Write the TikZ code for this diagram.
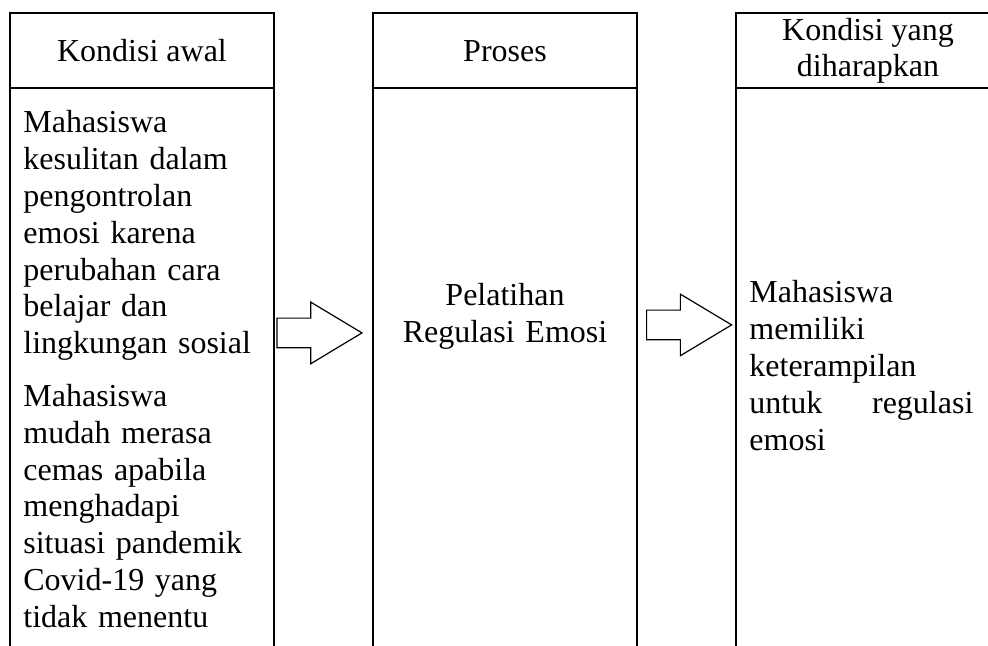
\documentclass[tikz,border=0pt]{standalone}
\usepackage{fontspec}
\setmainfont{Liberation Serif}
\usetikzlibrary{positioning,shapes.arrows}

\newcommand{\cellfont}{\fontsize{16pt}{18.4pt}\selectfont}

\begin{document}
\begin{tikzpicture}[
    node distance=49.5pt,
    head/.style={rectangle, draw, line width=1pt, minimum width=132pt, minimum height=37.5pt, inner sep=0pt, outer sep=0pt, align=center, font=\cellfont},
    side/.style={line width=1pt},
    celltext/.style={inner sep=0pt, anchor=base west, text width=120pt, align=left, font=\cellfont},
    blockarrow/.style={single arrow, draw, line width=0.6pt, inner xsep=0pt, inner ysep=7.1pt, single arrow head extend=8pt, single arrow tip angle=62, minimum height=42.5pt, anchor=tail},
]
\path[use as bounding box, clip] (0pt,0pt) rectangle (494pt,-322.5pt);

% Headers
\node[head] (h1) at (71pt,-25.4pt) {Kondisi awal};
\node[head, right=of h1] (h2) {Proses};
\node[head, right=of h2] (h3) {Kondisi yang\\diharapkan};

% Column sides, open at the bottom
\coordinate (bottom) at (0pt,-330pt);
\draw[side] (h1.south west) -- (h1.south west |- bottom) (h1.south east) -- (h1.south east |- bottom);
\draw[side] (h2.south west) -- (h2.south west |- bottom) (h2.south east) -- (h2.south east |- bottom);
\draw[side] (h3.south west) -- (h3.south west |- bottom) (h3.south east) -- (h3.south east |- bottom);

% Column contents
\node[celltext] (awal) at ([xshift=6.5pt, yshift=-22.3pt]h1.south west) {Mahasiswa\\kesulitan dalam\\pengontrolan\\emosi karena\\perubahan cara\\belajar dan\\lingkungan sosial\\[8pt]Mahasiswa\\mudah merasa\\cemas apabila\\menghadapi\\situasi pandemik\\Covid-19 yang\\tidak menentu};
\node[celltext, anchor=base, align=center] (proses) at ([yshift=-108.8pt]h2.south) {Pelatihan\\Regulasi Emosi};
\node[celltext, text width=112pt] (harap) at ([xshift=6.5pt, yshift=-107.3pt]h3.south west) {Mahasiswa\\memiliki\\keterampilan\\untuk\hfill regulasi\\emosi};

% Block arrows
\node[blockarrow] (ar1) at ([xshift=1.2pt, yshift=-122.3pt]h1.south east) {};
\node[blockarrow] (ar2) at ([xshift=4.5pt, yshift=-118.3pt]h2.south east) {};

\end{tikzpicture}
\end{document}
